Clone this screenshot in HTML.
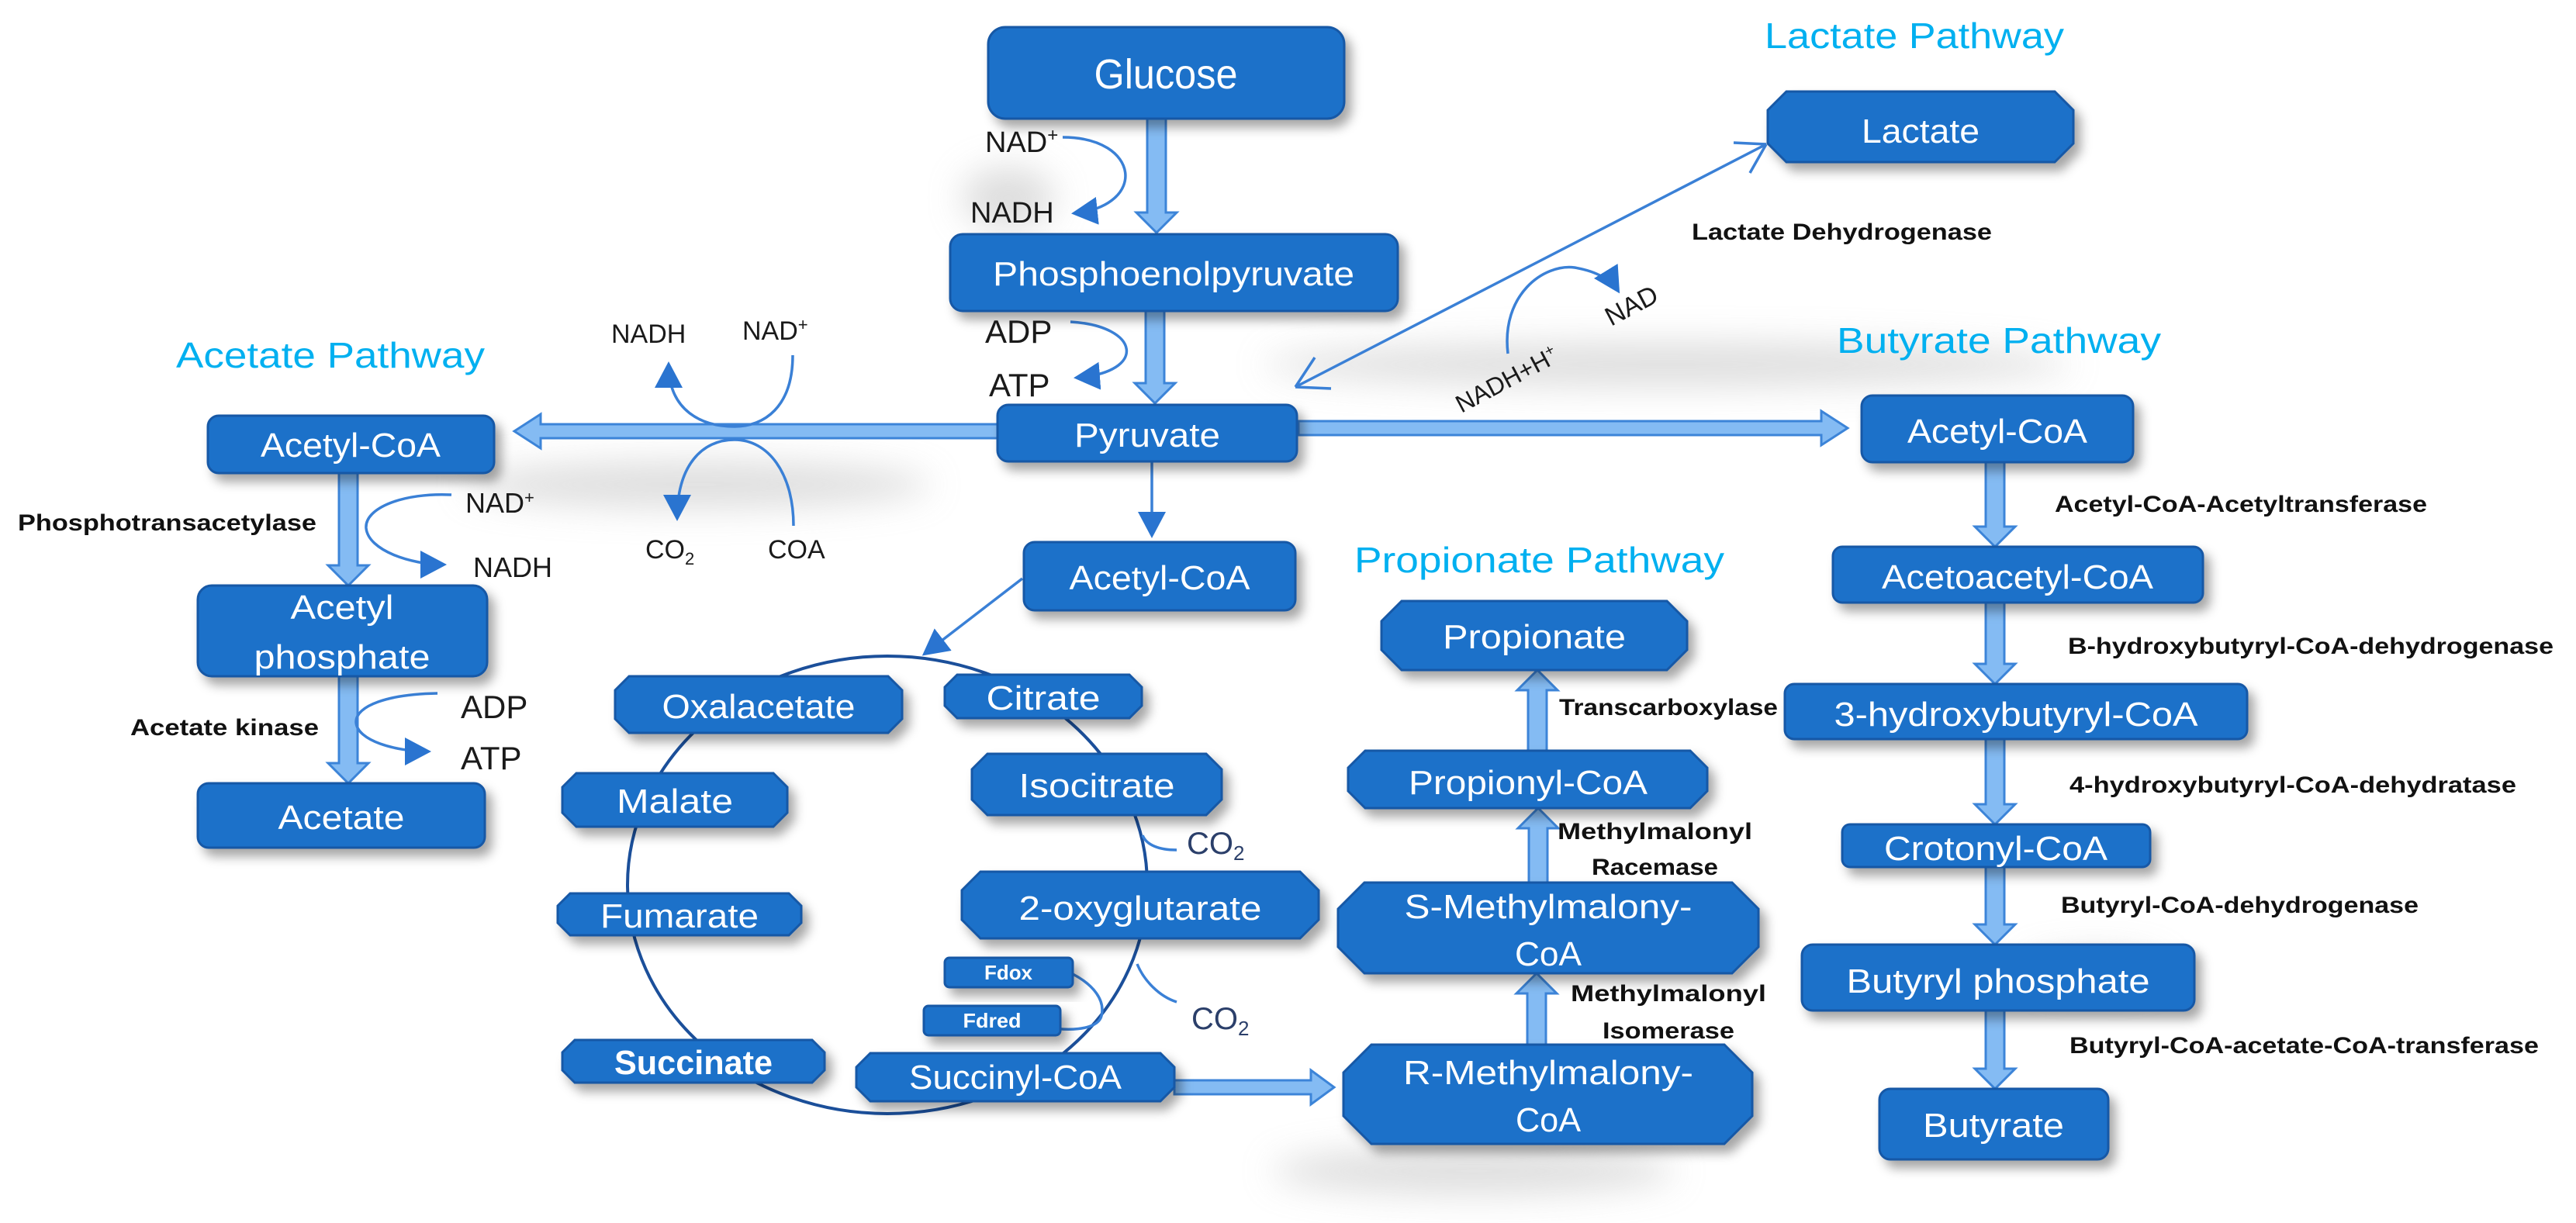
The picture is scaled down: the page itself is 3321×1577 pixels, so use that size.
<!DOCTYPE html>
<html><head><meta charset="utf-8"><style>
html,body{margin:0;padding:0;background:#fff;}
svg{display:block;}
.b{fill:#1f71c9;stroke:#1858a6;stroke-width:3;filter:url(#sh);}
.t{font-family:"Liberation Sans",sans-serif;fill:#fff;font-size:44px;text-anchor:middle;}
.e{font-family:"Liberation Sans",sans-serif;font-weight:bold;fill:#111;font-size:30px;}
.m{font-family:"Liberation Sans",sans-serif;fill:#1a1a1a;font-size:38px;}
.h{font-family:"Liberation Sans",sans-serif;fill:#00b0f0;font-size:46px;}
.a{fill:#84bbf3;stroke:#3c84d8;stroke-width:3;}
.c{fill:none;stroke:#3a80d6;stroke-width:3.5;}
</style></head><body>
<svg width="3321" height="1577" viewBox="0 0 3321 1577" xmlns="http://www.w3.org/2000/svg">
<defs>
<filter id="sh" x="-20%" y="-30%" width="150%" height="180%"><feDropShadow dx="8" dy="10" stdDeviation="7" flood-color="#000" flood-opacity="0.35"/></filter>
<filter id="bl"><feGaussianBlur stdDeviation="22"/></filter>
<marker id="ar" markerUnits="userSpaceOnUse" markerWidth="40" markerHeight="40" refX="30" refY="18" orient="auto"><path d="M0,0 L34,18 L0,36 Z" fill="#2a74d0"/></marker>
</defs>
<rect width="3321" height="1577" fill="#fff"/>
<!-- soft background shadows -->
<g filter="url(#bl)" fill="#c8c8c8" opacity="0.6">
<ellipse cx="2150" cy="470" rx="520" ry="28"/>
<ellipse cx="900" cy="625" rx="300" ry="30"/>
<ellipse cx="1900" cy="1510" rx="260" ry="30"/>
<ellipse cx="1300" cy="255" rx="60" ry="40"/>
<ellipse cx="2700" cy="1250" rx="90" ry="20"/>
</g>
<!-- TCA ellipse -->
<ellipse cx="1144" cy="1141" rx="335" ry="295" fill="none" stroke="#1b4f9a" stroke-width="4"/>

<!-- big arrows -->
<polygon class="a" points="1479,153 1503,153 1503,274 1517,274 1491,300 1465,274 1479,274"/>
<polygon class="a" points="1477,401 1501,401 1501,494 1515,494 1489,520 1463,494 1477,494"/>
<polygon class="a" points="437,610 461,610 461,729 475,729 449,755 423,729 437,729"/>
<polygon class="a" points="437,872 461,872 461,984 475,984 449,1010 423,984 437,984"/>
<polygon class="a" points="2560,596 2584,596 2584,679 2598,679 2572,705 2546,679 2560,679"/>
<polygon class="a" points="2560,777 2584,777 2584,856 2598,856 2572,882 2546,856 2560,856"/>
<polygon class="a" points="2560,953 2584,953 2584,1037 2598,1037 2572,1063 2546,1037 2560,1037"/>
<polygon class="a" points="2560,1118 2584,1118 2584,1192 2598,1192 2572,1218 2546,1192 2560,1192"/>
<polygon class="a" points="2560,1303 2584,1303 2584,1378 2598,1378 2572,1404 2546,1378 2560,1378"/>
<polygon class="a" points="1970,968 1994,968 1994,890 2008,890 1982,864 1956,890 1970,890"/>
<polygon class="a" points="1971,1138 1995,1138 1995,1068 2009,1068 1983,1042 1957,1068 1971,1068"/>
<polygon class="a" points="1969,1347 1993,1347 1993,1281 2007,1281 1981,1255 1955,1281 1969,1281"/>
<polygon class="a" points="1286,547 697,547 697,534 663,556 697,578 697,565 1286,565"/>
<polygon class="a" points="1674,543 2348,543 2348,530 2382,552 2348,574 2348,561 1674,561"/>
<polygon class="a" points="1514,1393 1690,1393 1690,1380 1720,1402 1690,1424 1690,1411 1514,1411"/>

<!-- thin arrows -->
<path class="c" d="M1485,595 L1485,690" marker-end="url(#ar)"/>
<path class="c" d="M1318,746 L1192,843" marker-end="url(#ar)"/>
<path d="M1670,499 L2277,186 M2277,186 L2235,184 M2277,186 L2256,223 M1670,499 L1695,461 M1670,499 L1716,501" stroke="#3a80d6" stroke-width="3.5" fill="none"/>

<!-- curved arrows -->
<path class="c" d="M1370,177 C1470,177 1480,265 1385,275" marker-end="url(#ar)"/>
<path class="c" d="M1380,415 C1470,420 1480,480 1388,487" marker-end="url(#ar)"/>
<path class="c" d="M1022,458 C1022,525 985,550 947,550 C905,550 862,530 862,470" marker-end="url(#ar)"/>
<path class="c" d="M1023,678 C1023,610 990,567 947,567 C905,567 873,600 873,668" marker-end="url(#ar)"/>
<path class="c" d="M582,638 C520,635 470,655 472,681 C475,710 530,728 572,728" marker-end="url(#ar)"/>
<path class="c" d="M564,894 C500,895 459,910 459,931 C460,955 510,969 552,969" marker-end="url(#ar)"/>
<path class="c" d="M1944,456 C1935,380 1990,340 2030,345 C2060,350 2078,362 2086,375" marker-end="url(#ar)"/>
<path class="c" d="M1473,1077 C1478,1090 1495,1096 1517,1096"/>
<path class="c" d="M1466,1243 C1475,1265 1495,1285 1517,1292"/>
<path class="c" d="M1383,1256 C1410,1270 1425,1290 1420,1310 C1415,1330 1370,1330 1342,1323"/>

<!-- rect boxes -->
<rect class="b" x="1274" y="35" width="459" height="118" rx="22"/>
<rect class="b" x="1225" y="302" width="577" height="99" rx="16"/>
<rect class="b" x="1286" y="522" width="386" height="73" rx="14"/>
<rect class="b" x="1320" y="699" width="350" height="88" rx="14"/>
<rect class="b" x="268" y="536" width="369" height="74" rx="14"/>
<rect class="b" x="255" y="755" width="373" height="117" rx="18"/>
<rect class="b" x="255" y="1010" width="370" height="83" rx="14"/>
<rect class="b" x="1218" y="1235" width="165" height="38" rx="6"/>
<rect class="b" x="1191" y="1297" width="176" height="38" rx="6"/>
<rect class="b" x="2400" y="510" width="350" height="86" rx="14"/>
<rect class="b" x="2363" y="705" width="477" height="72" rx="12"/>
<rect class="b" x="2301" y="882" width="596" height="71" rx="12"/>
<rect class="b" x="2375" y="1063" width="397" height="55" rx="10"/>
<rect class="b" x="2323" y="1218" width="506" height="85" rx="14"/>
<rect class="b" x="2423" y="1404" width="295" height="91" rx="14"/>

<!-- octagons -->
<polygon class="b" points="2303,118 2649,118 2673,142 2673,185 2649,209 2303,209 2279,185 2279,142"/>
<polygon class="b" points="811,872 1145,872 1163,890 1163,927 1145,945 811,945 793,927 793,890"/>
<polygon class="b" points="1234,870 1456,870 1472,886 1472,910 1456,926 1234,926 1218,910 1218,886"/>
<polygon class="b" points="743,997 997,997 1015,1015 1015,1048 997,1066 743,1066 725,1048 725,1015"/>
<polygon class="b" points="1273,972 1555,972 1575,992 1575,1031 1555,1051 1273,1051 1253,1031 1253,992"/>
<polygon class="b" points="735,1152 1017,1152 1033,1168 1033,1190 1017,1206 735,1206 719,1190 719,1168"/>
<polygon class="b" points="1264,1124 1676,1124 1700,1148 1700,1186 1676,1210 1264,1210 1240,1186 1240,1148"/>
<polygon class="b" points="741,1341 1047,1341 1063,1357 1063,1380 1047,1396 741,1396 725,1380 725,1357"/>
<polygon class="b" points="1122,1358 1496,1358 1514,1376 1514,1402 1496,1420 1122,1420 1104,1402 1104,1376"/>
<polygon class="b" points="1807,775 2149,775 2175,801 2175,838 2149,864 1807,864 1781,838 1781,801"/>
<polygon class="b" points="1760,968 2179,968 2201,990 2201,1020 2179,1042 1760,1042 1738,1020 1738,990"/>
<polygon class="b" points="1759,1138 2233,1138 2267,1172 2267,1221 2233,1255 1759,1255 1725,1221 1725,1172"/>
<polygon class="b" points="1768,1347 2223,1347 2259,1383 2259,1439 2223,1475 1768,1475 1732,1439 1732,1383"/>

<!-- box labels -->
<g class="t">
<text x="1503" y="114" font-size="54" textLength="185" lengthAdjust="spacingAndGlyphs">Glucose</text>
<text x="1513" y="368" textLength="466" lengthAdjust="spacingAndGlyphs">Phosphoenolpyruvate</text>
<text x="1479" y="576" textLength="188" lengthAdjust="spacingAndGlyphs">Pyruvate</text>
<text x="1495" y="760" textLength="233" lengthAdjust="spacingAndGlyphs">Acetyl-CoA</text>
<text x="452" y="589" textLength="232" lengthAdjust="spacingAndGlyphs">Acetyl-CoA</text>
<text x="441" y="798" textLength="133" lengthAdjust="spacingAndGlyphs">Acetyl</text>
<text x="441" y="862" textLength="227" lengthAdjust="spacingAndGlyphs">phosphate</text>
<text x="440" y="1069" textLength="163" lengthAdjust="spacingAndGlyphs">Acetate</text>
<text x="978" y="926" textLength="249" lengthAdjust="spacingAndGlyphs">Oxalacetate</text>
<text x="1345" y="915" textLength="147" lengthAdjust="spacingAndGlyphs">Citrate</text>
<text x="870" y="1048" textLength="150" lengthAdjust="spacingAndGlyphs">Malate</text>
<text x="1414" y="1028" textLength="201" lengthAdjust="spacingAndGlyphs">Isocitrate</text>
<text x="876" y="1196" textLength="204" lengthAdjust="spacingAndGlyphs">Fumarate</text>
<text x="1470" y="1186" textLength="313" lengthAdjust="spacingAndGlyphs">2-oxyglutarate</text>
<text x="1300" y="1263" font-size="26" font-weight="bold" textLength="62" lengthAdjust="spacingAndGlyphs">Fdox</text>
<text x="1279" y="1325" font-size="26" font-weight="bold" textLength="75" lengthAdjust="spacingAndGlyphs">Fdred</text>
<text x="894" y="1385" font-weight="bold" textLength="204" lengthAdjust="spacingAndGlyphs">Succinate</text>
<text x="1309" y="1404" textLength="274" lengthAdjust="spacingAndGlyphs">Succinyl-CoA</text>
<text x="1978" y="836" textLength="236" lengthAdjust="spacingAndGlyphs">Propionate</text>
<text x="1970" y="1024" textLength="308" lengthAdjust="spacingAndGlyphs">Propionyl-CoA</text>
<text x="1996" y="1184" textLength="371" lengthAdjust="spacingAndGlyphs">S-Methylmalony-</text>
<text x="1996" y="1245" textLength="86" lengthAdjust="spacingAndGlyphs">CoA</text>
<text x="1996" y="1398" textLength="374" lengthAdjust="spacingAndGlyphs">R-Methylmalony-</text>
<text x="1996" y="1459" textLength="84" lengthAdjust="spacingAndGlyphs">CoA</text>
<text x="2476" y="184" textLength="152" lengthAdjust="spacingAndGlyphs">Lactate</text>
<text x="2575" y="571" textLength="232" lengthAdjust="spacingAndGlyphs">Acetyl-CoA</text>
<text x="2601" y="759" textLength="350" lengthAdjust="spacingAndGlyphs">Acetoacetyl-CoA</text>
<text x="2599" y="936" textLength="469" lengthAdjust="spacingAndGlyphs">3-hydroxybutyryl-CoA</text>
<text x="2573" y="1109" textLength="288" lengthAdjust="spacingAndGlyphs">Crotonyl-CoA</text>
<text x="2576" y="1280" textLength="391" lengthAdjust="spacingAndGlyphs">Butyryl phosphate</text>
<text x="2570" y="1466" textLength="182" lengthAdjust="spacingAndGlyphs">Butyrate</text>
</g>

<!-- pathway titles -->
<text class="h" x="2275" y="62" textLength="386" lengthAdjust="spacingAndGlyphs">Lactate Pathway</text>
<text class="h" x="227" y="474" textLength="398" lengthAdjust="spacingAndGlyphs">Acetate Pathway</text>
<text class="h" x="2368" y="455" textLength="418" lengthAdjust="spacingAndGlyphs">Butyrate Pathway</text>
<text class="h" x="1746" y="738" textLength="477" lengthAdjust="spacingAndGlyphs">Propionate Pathway</text>

<!-- enzyme labels -->
<text class="e" x="2181" y="309" textLength="387" lengthAdjust="spacingAndGlyphs">Lactate Dehydrogenase</text>
<text class="e" x="23" y="684" textLength="385" lengthAdjust="spacingAndGlyphs">Phosphotransacetylase</text>
<text class="e" x="168" y="948" textLength="243" lengthAdjust="spacingAndGlyphs">Acetate kinase</text>
<text class="e" x="2010" y="922" textLength="282" lengthAdjust="spacingAndGlyphs">Transcarboxylase</text>
<text class="e" x="2008" y="1082" textLength="251" lengthAdjust="spacingAndGlyphs">Methylmalonyl</text>
<text class="e" x="2052" y="1128" textLength="163" lengthAdjust="spacingAndGlyphs">Racemase</text>
<text class="e" x="2025" y="1291" textLength="252" lengthAdjust="spacingAndGlyphs">Methylmalonyl</text>
<text class="e" x="2066" y="1339" textLength="170" lengthAdjust="spacingAndGlyphs">Isomerase</text>
<text class="e" x="2649" y="660" textLength="480" lengthAdjust="spacingAndGlyphs">Acetyl-CoA-Acetyltransferase</text>
<text class="e" x="2666" y="843" textLength="626" lengthAdjust="spacingAndGlyphs">B-hydroxybutyryl-CoA-dehydrogenase</text>
<text class="e" x="2668" y="1022" textLength="576" lengthAdjust="spacingAndGlyphs">4-hydroxybutyryl-CoA-dehydratase</text>
<text class="e" x="2657" y="1177" textLength="461" lengthAdjust="spacingAndGlyphs">Butyryl-CoA-dehydrogenase</text>
<text class="e" x="2668" y="1358" textLength="605" lengthAdjust="spacingAndGlyphs">Butyryl-CoA-acetate-CoA-transferase</text>

<!-- metabolite labels -->
<g class="m">
<text x="1270" y="196">NAD<tspan font-size="24" dy="-14">+</tspan></text>
<text x="1251" y="287">NADH</text>
<text x="1270" y="442" font-size="42">ADP</text>
<text x="1275" y="511" font-size="42">ATP</text>
<text x="788" y="442" font-size="34">NADH</text>
<text x="957" y="438" font-size="34">NAD<tspan font-size="22" dy="-12">+</tspan></text>
<text x="832" y="720" font-size="34">CO<tspan font-size="22" dy="8">2</tspan></text>
<text x="990" y="720" font-size="34">COA</text>
<text x="600" y="661" font-size="36">NAD<tspan font-size="22" dy="-12">+</tspan></text>
<text x="610" y="744" font-size="36">NADH</text>
<text x="594" y="926" font-size="42">ADP</text>
<text x="594" y="992" font-size="42">ATP</text>
<text x="1530" y="1101" font-size="40" fill="#2b3f6a">CO<tspan font-size="26" dy="8">2</tspan></text>
<text x="1536" y="1327" font-size="40" fill="#2b3f6a">CO<tspan font-size="26" dy="8">2</tspan></text>
<text x="1884" y="533" font-size="32" transform="rotate(-28 1884 533)">NADH+H<tspan font-size="20" dy="-12">+</tspan></text>
<text x="2077" y="421" font-size="34" transform="rotate(-28 2077 421)">NAD</text>
</g>
</svg>
</body></html>
